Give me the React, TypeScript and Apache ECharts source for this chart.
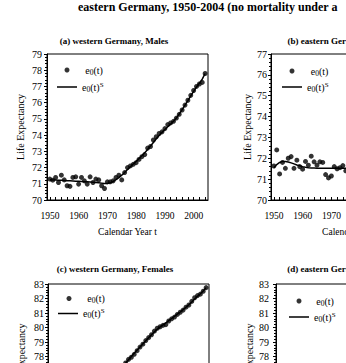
import React, { useEffect, useRef } from "react";
import * as echarts from "echarts";

const FONT = '"Liberation Serif", "Times New Roman", serif';

const MAIN_TITLE = "eastern Germany, 1950-2004 (no mortality under a";
const PANEL_TITLES = [
  "(a) western Germany, Males",
  "(b) eastern Germany, Males",
  "(c) western Germany, Females",
  "(d) eastern Germany, Females",
];
const X_NAME = "Calendar Year t";
const Y_NAME = "Life Expectancy";
const DECADES = [1950, 1960, 1970, 1980, 1990, 2000];
const X_TICKS = [
  1950, 1952, 1954, 1956, 1958, 1960, 1962, 1964, 1966, 1968, 1970, 1972, 1974, 1976, 1978,
  1980, 1982, 1984, 1986, 1988, 1990, 1992, 1994, 1996, 1998, 2000, 2002, 2004,
];

// (a) western Germany, males: observed e0(t), 1950-2004
const WEST_MALE_START = 1950;
const westMaleObs = [
  71.29, 71.22, 71.39, 71.08, 71.53, 71.24, 70.88, 70.84, 71.39, 71.43,
  70.98, 71.39, 71.18, 70.98, 71.43, 71.08, 71.29, 71.24, 70.88, 70.71,
  71.12, 71.12, 71.18, 71.39, 71.53, 71.24, 71.69, 72.0, 72.1, 72.2,
  72.3, 72.5, 72.67, 72.8, 73.2, 73.3, 73.7, 73.9, 74.1, 74.2,
  74.4, 74.65, 74.75, 74.85, 75.05, 75.28, 75.55, 75.85, 76.15, 76.45,
  76.75, 77.0, 77.15, 77.25, 77.8,
];
const westMaleFit = [
  71.25, 71.24, 71.23, 71.22, 71.21, 71.2, 71.19, 71.18, 71.17, 71.16,
  71.15, 71.14, 71.13, 71.12, 71.11, 71.1, 71.08, 71.06, 71.04, 71.02,
  71.02, 71.06, 71.14, 71.25, 71.38, 71.53, 71.7, 71.88, 72.05, 72.22,
  72.38, 72.55, 72.73, 72.92, 73.12, 73.33, 73.55, 73.77, 73.98, 74.17,
  74.35, 74.52, 74.68, 74.85, 75.05, 75.3, 75.57, 75.85, 76.13, 76.42,
  76.7, 76.97, 77.2, 77.45, 77.8,
];

// (b) eastern Germany, males: visible part
const EAST_MALE_START = 1950;
const eastMaleObs = [
  71.63, 72.4, 71.25, 71.8, 71.52, 72.0, 72.08, 71.52, 71.91, 71.6,
  71.48, 71.85, 71.67, 72.1, 71.83, 71.67, 71.83, 71.8, 71.22, 71.06,
  71.15, 71.6, 71.5, 71.55, 71.65, 71.4, 71.36,
];
const eastMaleFit = [
  71.55, 71.7, 71.8, 71.85, 71.85, 71.82, 71.78, 71.73, 71.68, 71.64,
  71.6, 71.57, 71.55, 71.54, 71.53, 71.52, 71.52, 71.52, 71.52, 71.52,
  71.52, 71.52, 71.52, 71.52, 71.52, 71.52, 71.52,
];

// (c) western Germany, females: visible part
const WEST_FEMALE_START = 1976;
const westFemaleObs = [
  77.55, 77.8, 77.95, 78.15, 78.4, 78.65, 78.85, 79.1, 79.3, 79.5,
  79.75, 79.95, 80.05, 80.15, 80.2, 80.45, 80.6, 80.72, 80.9, 81.05,
  81.2, 81.4, 81.55, 81.8, 82.05, 82.2, 82.3, 82.5, 82.75,
];
const westFemaleFit = [
  77.55, 77.78, 78.0, 78.22, 78.44, 78.66, 78.87, 79.08, 79.29, 79.5,
  79.7, 79.88, 80.04, 80.18, 80.32, 80.47, 80.62, 80.77, 80.92, 81.07,
  81.23, 81.4, 81.57, 81.76, 81.96, 82.15, 82.33, 82.52, 82.75,
];

// (d) eastern Germany, females: nothing visible
const EAST_FEMALE_START = 1950;
const eastFemaleObs: number[] = [];
const eastFemaleFit: number[] = [];

const Y_RANGES = [
  [70, 79],
  [70, 77],
  [73, 83],
  [73, 83],
];

const pair = (start: number, vals: number[]) => vals.map((v, i) => [start + i, v]);

const GRIDS = [
  { left: 47, top: 54, width: 161, height: 146 },
  { left: 271, top: 54, width: 161, height: 146 },
  { left: 48, top: 284, width: 161, height: 145 },
  { left: 276, top: 284, width: 161, height: 145 },
];
const TITLE_POS = [
  { x: 114, y: 36 },
  { x: 341, y: 36 },
  { x: 115, y: 264 },
  { x: 345, y: 264 },
];
// dotX = centre of the dot, lineX = left of the line icon, textX = start of text
const LEGEND_POS = [
  { dotX: 67, lineX: 57, textX: 81, y1: 65, y2: 81 },
  { dotX: 292, lineX: 282, textX: 307, y1: 66, y2: 81 },
  { dotX: 69, lineX: 58, textX: 83, y1: 293.5, y2: 307.5 },
  { dotX: 299, lineX: 289, textX: 311, y1: 296, y2: 311 },
];
const Y_NAME_GAP = [22, 19, 22, 22];
const Y_LABEL_MARGIN = [5, 4, 4, 7];
const LINE_ICON = "path://M0,0L40,0L40,3L0,3Z";

export default function App() {
  const ref = useRef<HTMLDivElement>(null);
  useEffect(() => {
    if (!ref.current) return;
    const chart = echarts.init(ref.current, null, { renderer: "svg" });
    const obs = [
      pair(WEST_MALE_START, westMaleObs),
      pair(EAST_MALE_START, eastMaleObs),
      pair(WEST_FEMALE_START, westFemaleObs),
      pair(EAST_FEMALE_START, eastFemaleObs),
    ];
    const fit = [
      pair(WEST_MALE_START, westMaleFit),
      pair(EAST_MALE_START, eastMaleFit),
      pair(WEST_FEMALE_START, westFemaleFit),
      pair(EAST_FEMALE_START, eastFemaleFit),
    ];
    const axisColor = "#000";
    const rich = {
      e: { fontFamily: FONT, fontSize: 10, color: "#000", lineHeight: 12 },
      s: { fontFamily: FONT, fontSize: 7.5, color: "#000", verticalAlign: "bottom", lineHeight: 7 },
      p: { fontFamily: FONT, fontSize: 7, color: "#000", verticalAlign: "top", lineHeight: 5 },
    };
    const legends: any[] = [];
    LEGEND_POS.forEach((lp, i) => {
      const dotLeft = lp.dotX - 2.5;
      legends.push({
        left: dotLeft,
        top: lp.y1,
        padding: 0,
        itemWidth: 20,
        itemHeight: 5,
        data: [{ name: "obs" + i, icon: "circle" }],
        formatter: () => "{e|e}{s|0}{e|(t)}",
        textStyle: { rich, padding: [0, 0, 0, Math.max(0, (lp.textX - (dotLeft + 10)) / 2)] },
      });
      legends.push({
        left: lp.lineX,
        top: lp.y2,
        padding: 0,
        itemWidth: 20,
        itemHeight: 5,
        data: [{ name: "fit" + i, icon: LINE_ICON }],
        formatter: () => "{e|e}{s|0}{e|(t)}{p|S}",
        textStyle: { rich, padding: [0, 0, 0, Math.max(0, (lp.textX - (lp.lineX + 25)) / 2)] },
      });
    });
    const option: any = {
      animation: false,
      title: [
        {
          text: MAIN_TITLE,
          left: 78,
          top: 1,
          padding: 0,
          textStyle: { fontFamily: FONT, fontSize: 12, fontWeight: "bold", color: "#000" },
        },
        ...PANEL_TITLES.map((t, i) => ({
          text: t,
          left: TITLE_POS[i].x,
          top: TITLE_POS[i].y,
          textAlign: "center",
          padding: 0,
          textStyle: { fontFamily: FONT, fontSize: 9, fontWeight: "bold", color: "#000" },
        })),
      ],
      legend: legends,
      grid: GRIDS.map((g) => ({
        ...g,
        show: true,
        borderColor: "#000",
        borderWidth: 1,
        containLabel: false,
        outerBoundsMode: "none",
      })),
      xAxis: GRIDS.map((_, i) => ({
        gridIndex: i,
        type: "value",
        min: 1949,
        max: 2005,
        axisLine: { show: true, lineStyle: { color: axisColor, width: 1 } },
        axisTick: {
          show: true,
          inside: true,
          length: 3,
          customValues: X_TICKS,
          lineStyle: { color: axisColor },
        },
        axisLabel: {
          customValues: DECADES,
          formatter: (v: number) => String(v),
          fontFamily: FONT,
          fontSize: 9.5,
          color: "#000",
          margin: 11,
        },
        splitLine: { show: false },
        name: X_NAME,
        nameLocation: "middle",
        nameGap: 27,
        nameTextStyle: { fontFamily: FONT, fontSize: 9.5, color: "#000" },
      })),
      yAxis: GRIDS.map((_, i) => ({
        gridIndex: i,
        type: "value",
        min: Y_RANGES[i][0],
        max: Y_RANGES[i][1],
        interval: 1,
        axisLine: { show: true, lineStyle: { color: axisColor, width: 1 } },
        axisTick: { show: true, length: 3, lineStyle: { color: axisColor } },
        minorTick: { show: true, splitNumber: 5, length: 2, lineStyle: { color: axisColor } },
        axisLabel: {
          fontFamily: FONT,
          fontSize: 10,
          color: "#000",
          margin: Y_LABEL_MARGIN[i],
        },
        splitLine: { show: false },
        minorSplitLine: { show: false },
        name: Y_NAME,
        nameLocation: "middle",
        nameGap: Y_NAME_GAP[i],
        nameTextStyle: { fontFamily: FONT, fontSize: 10, color: "#000" },
      })),
      series: [
        ...fit.map((d, i) => ({
          name: "fit" + i,
          type: "line",
          xAxisIndex: i,
          yAxisIndex: i,
          data: d,
          symbol: "none",
          showSymbol: false,
          lineStyle: { color: "#000", width: 1.5 },
          itemStyle: { color: "#000" },
          z: 2,
        })),
        ...obs.map((d, i) => ({
          name: "obs" + i,
          type: "scatter",
          xAxisIndex: i,
          yAxisIndex: i,
          data: d,
          symbol: "circle",
          symbolSize: 5,
          itemStyle: { color: "#000" },
          z: 3,
        })),
      ],
    };
    chart.setOption(option);
    return () => chart.dispose();
  }, []);
  return (
    <div
      ref={ref}
      style={{ position: "fixed", left: 0, top: 0, width: 346, height: 363, background: "#fff" }}
    />
  );
}
